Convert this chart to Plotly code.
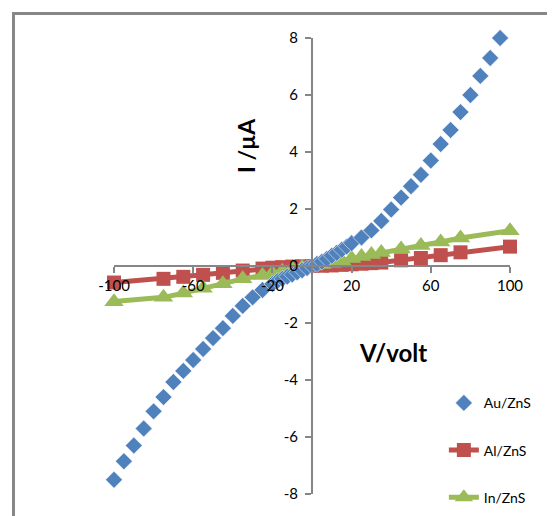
import plotly.graph_objects as go

# Data
au_v = [-100, -95, -90, -85, -80, -75, -70, -65, -60, -55, -50, -45, -40, -35, -30, -25,
        -20, -17.5, -15, -12.5, -10, -7.5, -5, -2.5, 0, 2.5, 5, 7.5, 10, 12.5, 15, 17.5,
        20, 25, 30, 35, 40, 45, 50, 55, 60, 65, 70, 75, 80, 85, 90, 95]
au_i = [-7.5, -6.85, -6.3, -5.7, -5.1, -4.6, -4.07, -3.68, -3.3, -2.91, -2.53, -2.18, -1.75, -1.4, -1.1, -0.84,
        -0.63, -0.53, -0.45, -0.37, -0.3, -0.22, -0.15, -0.07, 0.0, 0.07, 0.15, 0.25, 0.36, 0.46, 0.57, 0.68,
        0.8, 1.0, 1.25, 1.58, 1.98, 2.4, 2.8, 3.2, 3.7, 4.28, 4.77, 5.4, 6.0, 6.67, 7.3, 8.0]

al_in_v = [-100, -75, -65, -55, -45, -35, -25, -20, -15, -10, -5, 0, 5, 10, 15, 20, 25, 30, 35, 45, 55, 65, 75, 100]
al_i = [-0.58, -0.45, -0.38, -0.31, -0.24, -0.16, -0.09, -0.06, -0.04, -0.02, -0.01, 0.0, 0.01, 0.02, 0.04, 0.06,
        0.08, 0.1, 0.12, 0.2, 0.28, 0.38, 0.48, 0.68]
in_i = [-1.25, -1.1, -0.95, -0.78, -0.62, -0.45, -0.33, -0.25, -0.18, -0.1, -0.05, 0.0, 0.05, 0.1, 0.18, 0.26,
        0.33, 0.4, 0.47, 0.6, 0.72, 0.84, 0.98, 1.24]

x_ticks = [-100, -60, -20, 20, 60, 100]
y_ticks = [-8, -6, -4, -2, 0, 2, 4, 6, 8]

FONT = "Lato"
AXC = "#868686"

fig = go.Figure()
fig.add_trace(go.Scatter(x=al_in_v, y=al_i, name="Al/ZnS", mode="lines+markers",
                         line=dict(color="#C0504D", width=5),
                         marker=dict(symbol="square", size=14, color="#C0504D"),
                         legendgroup="al", legendrank=2, cliponaxis=False))
fig.add_trace(go.Scatter(x=al_in_v, y=in_i, name="In/ZnS", mode="lines+markers",
                         line=dict(color="#9BBB59", width=5),
                         marker=dict(symbol="triangle-up", size=17, color="#9BBB59"),
                         legendgroup="in", legendrank=3, cliponaxis=False))
fig.add_trace(go.Scatter(x=au_v, y=au_i, name="Au/ZnS", mode="markers",
                         marker=dict(symbol="diamond", size=13, color="#4F81BD",
                                     line=dict(color="white", width=0.5)),
                         legendgroup="au", legendrank=1, cliponaxis=False))

# page body adds an 8px offset; margins compensate so the plot sits where the reference has it
fig.update_layout(
    width=555, height=516,
    margin=dict(l=106, r=53, t=30, b=30, autoexpand=False),
    paper_bgcolor="white", plot_bgcolor="white",
    font=dict(family=FONT, size=15, color="#000000"),
    xaxis=dict(range=[-100, 100], tickvals=x_ticks, ticktext=[str(v) for v in x_ticks],
               showgrid=False, zeroline=False, showline=True, linecolor=AXC, linewidth=2,
               ticks="outside", ticklen=6, tickcolor=AXC, tickwidth=2,
               anchor="free", position=0.5, tickfont=dict(size=15)),
    yaxis=dict(range=[-8, 8], tickvals=y_ticks, ticktext=[str(v) for v in y_ticks],
               showgrid=False, zeroline=False, showline=True, linecolor=AXC, linewidth=2,
               ticks="outside", ticklen=6, tickcolor=AXC, tickwidth=2,
               anchor="free", position=0.5, tickfont=dict(size=15), ticklabelstandoff=4),
    legend=dict(x=0.833, y=0.234, xanchor="left", yanchor="top",
                bgcolor="rgba(0,0,0,0)", tracegroupgap=26,
                font=dict(size=14), traceorder="grouped"),
    showlegend=True,
)

fig.add_annotation(text="<b>I /µA</b>", x=0.333, y=0.765, xref="paper", yref="paper",
                   xanchor="center", yanchor="middle",
                   textangle=-90, showarrow=False, font=dict(size=23, family=FONT))
fig.add_annotation(text="<b>V/volt</b>", x=0.705, y=0.311, xref="paper", yref="paper",
                   xanchor="center", yanchor="middle",
                   showarrow=False, font=dict(size=24, family=FONT))

# outer chart frame
fig.add_shape(type="rect", xref="paper", yref="paper",
              x0=(13.5 - 114) / 396, x1=(600 - 114) / 396,
              y0=(494 - 560) / 456, y1=(494 - 13.5) / 456,
              line=dict(color="#878787", width=3), layer="below")

fig.write_html("out.html")
